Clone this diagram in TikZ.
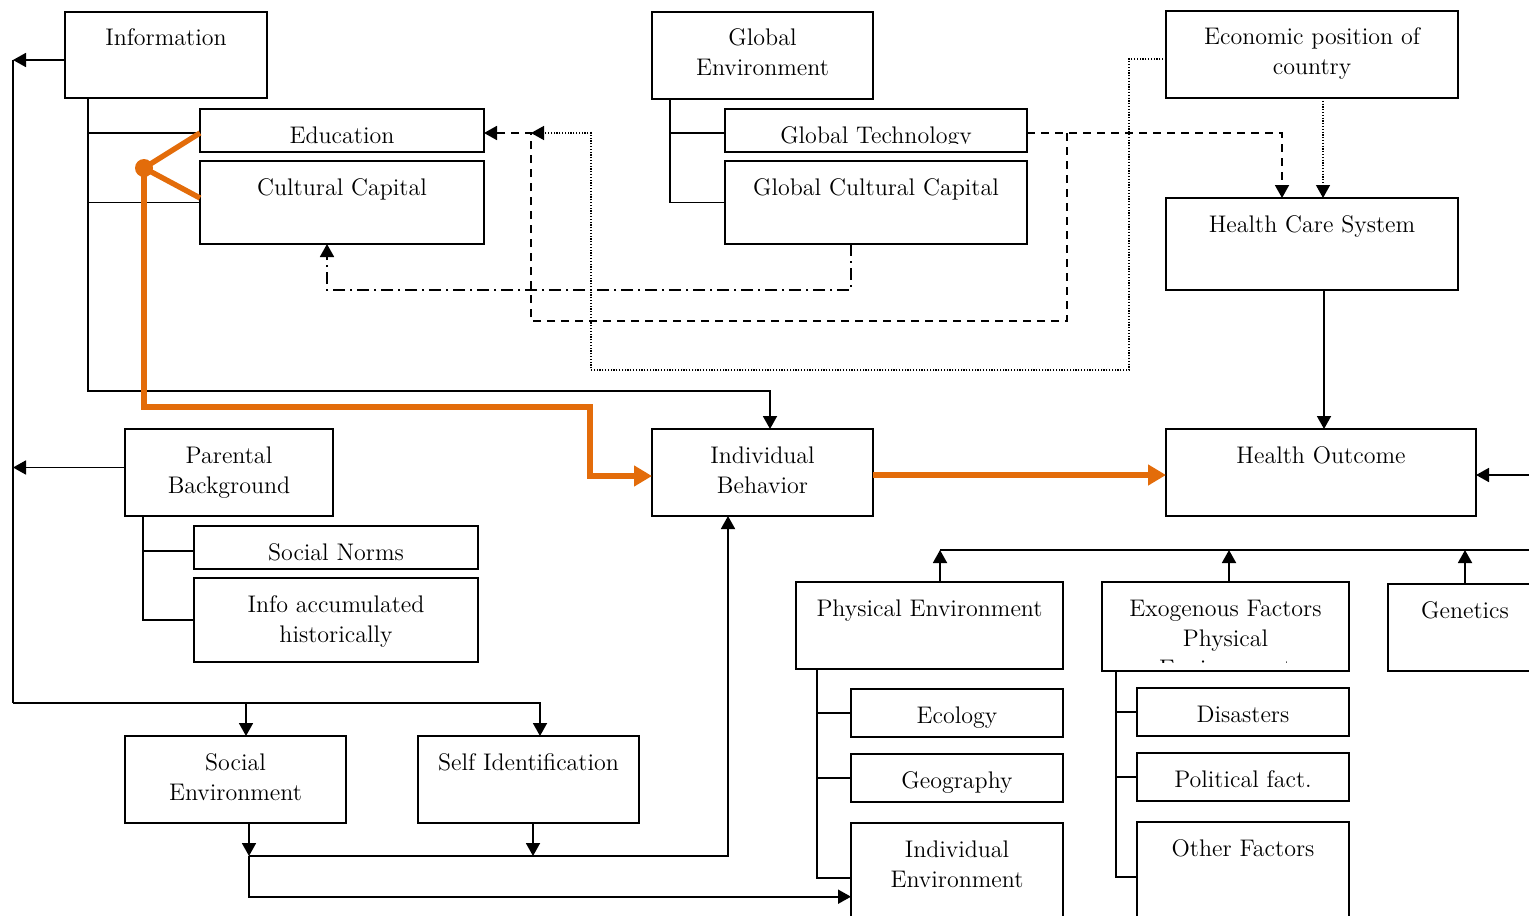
\documentclass[tikz,border=0pt]{standalone}
\usetikzlibrary{arrows.meta}

\definecolor{accent}{RGB}{227,108,10}
\newcommand{\boxfont}{\fontsize{12}{15}\selectfont}

\tikzset{
  box/.style={draw, line width=1.1pt, rectangle, anchor=north west,
    inner sep=0pt, outer sep=0pt},
  boxsize/.style 2 args={minimum width=#1*0.5pt, minimum height=#2*0.5pt},
  boxtext/.style={path picture={
      \clip ([yshift=4.5pt]path picture bounding box.south west)
        rectangle (path picture bounding box.north east);
      \node[anchor=north, align=center, inner sep=0pt, minimum width=0pt,
        minimum height=0pt, font=\boxfont]
        at ([yshift=-6.5pt]path picture bounding box.north) {\strut #1};}},
  link/.style={line width=0.9pt},
  dashlink/.style={line width=0.9pt, dash pattern=on 4pt off 3pt},
  dotlink/.style={line width=0.7pt, dash pattern=on 0.6pt off 0.8pt},
  dashdotlink/.style={line width=0.9pt, dash pattern=on 6pt off 2.5pt on 1pt off 2.5pt},
  hotlink/.style={draw=accent, line width=2.7pt},
  hottip/.style={-{Triangle[length=9pt,width=10pt]}}
}

\begin{document}
\begin{tikzpicture}[x=0.5pt, y=-0.5pt, >={Triangle[length=6.5pt,width=7pt]}]
    \useasboundingbox (0,0) rectangle (1529,915);
    \clip (0,0) rectangle (1529,915);

    % Upper left: information
    \node[box, boxsize={202}{86}, boxtext={Information}] (info) at (65,12) {};
    \node[box, boxsize={284}{43}, boxtext={Education}] (edu) at (200,109) {};
    \node[box, boxsize={284}{83}, boxtext={Cultural Capital}] (cult) at (200,161) {};

    % Upper middle: global environment
    \node[box, boxsize={221}{87}, boxtext={Global\\Environment}] (glenv) at (652,12) {};
    \node[box, boxsize={302}{43}, boxtext={Global Technology}] (gltech) at (725,109) {};
    \node[box, boxsize={302}{83}, boxtext={Global Cultural Capital}] (glcult) at (725,161) {};

    % Right column
    \node[box, boxsize={292}{87}, boxtext={Economic position of\\country}] (econ) at (1166,11) {};
    \node[box, boxsize={292}{92}, boxtext={Health Care System}] (hcs) at (1166,198) {};
    \node[box, boxsize={310}{87}, boxtext={Health Outcome}] (outcome) at (1166,429) {};
    \node[box, boxsize={221}{87}, boxtext={Individual\\Behavior}] (behav) at (652,429) {};

    % Parental background
    \node[box, boxsize={208}{87}, boxtext={Parental\\Background}] (parent) at (125,429) {};
    \node[box, boxsize={284}{43}, boxtext={Social Norms}] (norms) at (194,526) {};
    \node[box, boxsize={284}{84}, boxtext={Info accumulated\\historically}] (infoacc) at (194,578) {};

    % Lower left
    \node[box, boxsize={221}{87}, boxtext={Social\\Environment}] (socenv) at (125,736) {};
    \node[box, boxsize={221}{87}, boxtext={Self Identification}] (selfid) at (418,736) {};

    % Lower right: exogenous factors
    \node[box, boxsize={267}{87}, boxtext={Physical Environment}] (physenv) at (796,582) {};
    \node[box, boxsize={247}{89}, boxtext={Exogenous Factors\\Physical\\Environment}] (exo) at (1102,582) {};
    \node[box, boxsize={154}{87}, boxtext={Genetics}] (genetics) at (1388,584) {};
    \node[box, boxsize={212}{48}, boxtext={Ecology}] (ecology) at (851,689) {};
    \node[box, boxsize={212}{48}, boxtext={Geography}] (geo) at (851,754) {};
    \node[box, boxsize={212}{110}, boxtext={Individual\\Environment}] (indenv) at (851,823) {};
    \node[box, boxsize={212}{48}, boxtext={Disasters}] (disast) at (1137,688) {};
    \node[box, boxsize={212}{48}, boxtext={Political fact.}] (polit) at (1137,753) {};
    \node[box, boxsize={212}{110}, boxtext={Other Factors}] (other) at (1137,822) {};

    \coordinate (lbus) at (13,60);
    \coordinate (lcorner) at (13,703);
    \coordinate (dashcorner) at (531,133);
    \coordinate (techsplit) at (1067,133);
    \coordinate (hub) at (144,168);
    \coordinate (lowbus) at (249,856);
    \coordinate (rbus) at (940,550);

    % Brackets
    \draw[link] ([xshift=11.5pt]info.south west) |- (cult.west);
    \draw[link] ([yshift=-1.25pt]edu.west) -- ++(-112,0);
    \draw[link] ([xshift=9pt]glenv.south west) |- (glcult.west);
    \draw[link] ([yshift=-1.25pt]gltech.west) -- ++(-55,0);
    \draw[link] ([xshift=9pt]parent.south west) |- (infoacc.west);
    \draw[link] ([yshift=-1.75pt]norms.west) -- ++(-51,0);
    \draw[link] ([xshift=10.5pt]physenv.south west) |- (indenv.west);
    \draw[link] (ecology.west) -- ++(-34,0);
    \draw[link] (geo.west) -- ++(-34,0);
    \draw[link] ([xshift=7pt]exo.south west) |- (other.west);
    \draw[link] (disast.west) -- ++(-21,0);
    \draw[link] (polit.west) -- ++(-21,0);

    % Left bus
    \draw[link,->] ([yshift=-2.5pt]info.west) -- (lbus);
    \draw[link,->] ([yshift=2.5pt]parent.west) -- ([yshift=2.5pt]parent.west -| lbus);
    \draw[link] (lbus) -- (lcorner);
    \draw[link,->] (lcorner) -| ([xshift=5.75pt]selfid.north);
    \draw[link,->] ([xshift=5.25pt]socenv.north |- lcorner) -- ([xshift=5.25pt]socenv.north);

    % Information to behaviour
    \draw[link,->] ([xshift=11.5pt]info.south west) -- ++(0,293) -| ([xshift=3.75pt]behav.north);

    % Bottom bus
    \draw[link,->] ([xshift=6.75pt]socenv.south) -- ++(0,33);
    \draw[link,->] ([xshift=2.25pt]selfid.south) -- ++(0,33);
    \draw[link,->] (lowbus) -| ([xshift=-17.25pt]behav.south);
    \draw[link,->] (lowbus) |- ([yshift=-9.35pt]indenv.west);

    % Exogenous factors to outcome
    \draw[link,->] ([xshift=5.25pt]physenv.north) -- (rbus);
    \draw[link,->] ([xshift=1.75pt]exo.north) -- ++(0,-32);
    \draw[link,->] (genetics.north) -- ++(0,-34);
    \draw[link,->] (rbus) -- ++(620,0) |- ([yshift=-1.25pt]outcome.east);

    % Health care
    \draw[link,->] ([xshift=6pt]hcs.south) -- ([xshift=6pt]hcs.south |- outcome.north);
    \draw[dotlink,->] ([xshift=5.5pt]econ.south) -- ([xshift=5.5pt]econ.south |- hcs.north);
    \draw[dotlink,->] ([yshift=-2.25pt]econ.west) -- ++(-37,0) -- ++(0,311)
        -- ++(-538,0) -- ++(0,-237) -- (dashcorner);
    \draw[dashlink,->] ([yshift=-1.25pt]gltech.east) -| ([xshift=-15pt]hcs.north);
    \draw[dashlink,->] (techsplit) -- ++(0,188) -| (dashcorner) -- ([yshift=-1.25pt]edu.east);
    \draw[dashdotlink,->] ([xshift=-12.5pt]glcult.south) -- ++(0,46) -| ([xshift=-7.5pt]cult.south);

    % Highlighted path
    \draw[hotlink] ([yshift=-1.25pt]edu.west) -- (hub) -- ([yshift=2.25pt]cult.west);
    \fill[accent] (hub) circle (4.5pt);
    \draw[hotlink,hottip] (hub) -- ++(0,239) -- ++(446,0) |- ([yshift=-1.75pt]behav.west);
    \draw[hotlink,hottip] ([yshift=-1.25pt]behav.east) -- ([yshift=-1.25pt]outcome.west);
\end{tikzpicture}
\end{document}
